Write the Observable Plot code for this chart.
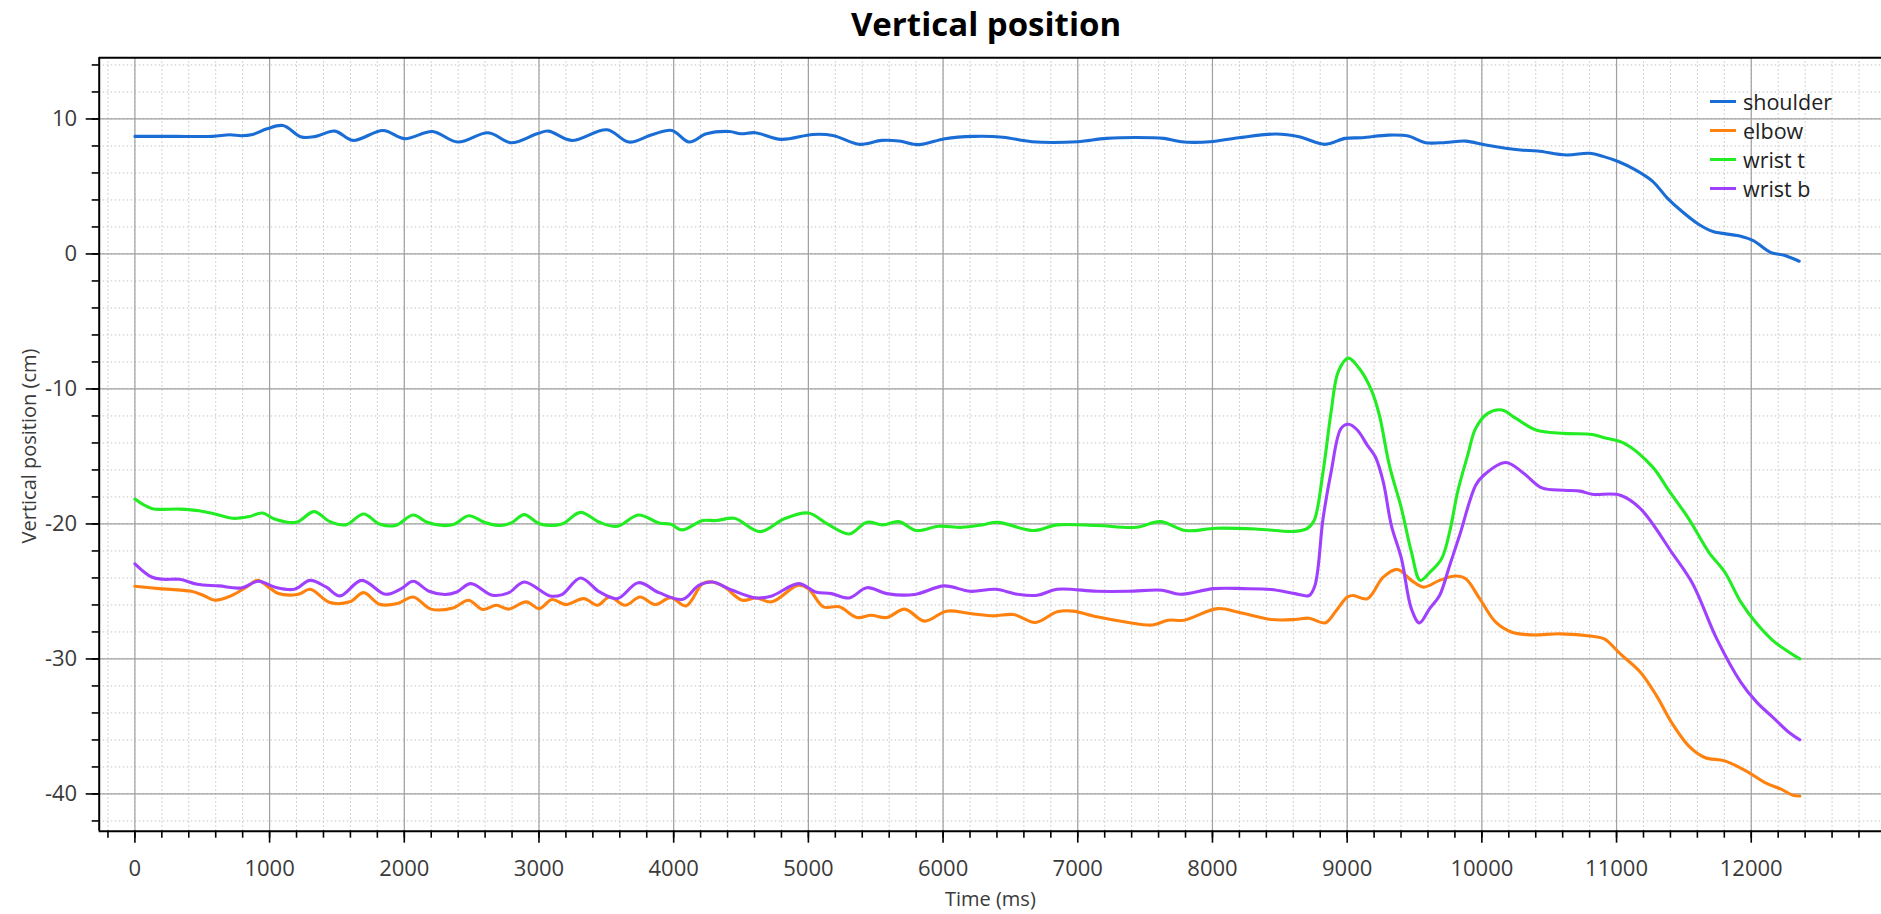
<!DOCTYPE html>
<html>
<head>
<meta charset="utf-8">
<script src="https://cdn.jsdelivr.net/npm/d3@7"></script>
<script src="https://cdn.jsdelivr.net/npm/@observablehq/plot@0.6"></script>
<style>
  html, body { margin: 0; padding: 0; background: #fff; }
  body { width: 1881px; height: 914px; position: relative; overflow: hidden; font-family: "Open Sans", sans-serif; }
  #title { height: 50px; line-height: 48px; padding-left: 91px; text-align: center; font-weight: bold; font-size: 33px; color: #000; }
  #legend { position: absolute; left: 1710px; top: 87px; font-size: 21.5px; color: #222; }
  #legend .row { height: 29px; display: flex; align-items: center; }
  #legend .sw { width: 26px; height: 3px; margin-right: 7px; }
  #ylabel { position: absolute; left: 28px; top: 446px; transform: translate(-50%, -50%) rotate(-90deg); white-space: nowrap; font-size: 20px; color: #3a3a3a; }
</style>
</head>
<body>
<div id="title">Vertical position</div>
<div id="chart"></div>
<div id="legend"></div>
<div id="ylabel"></div>
<script>
// ---- data ----
const seriesNames = ["shoulder", "elbow", "wrist t", "wrist b"];
const seriesColors = ["#1a6dd4", "#ff820f", "#22ec22", "#a040ff"];

const shoulderT = [0,300,576,704,789,874,981,1100,1237,1343,1484,1620,1842,2004,2209,2397,2623,2793,2985,3070,3241,3505,3667,3838,3987,4115,4243,4414,4499,4606,4797,5032,5181,5382,5544,5672,5821,6013,6226,6445,6659,7000,7213,7555,7640,7768,7982,8195,8472,8643,8835,8985,9113,9305,9454,9582,9732,9881,10030,10286,10414,10628,10798,10905,11012,11140,11268,11375,11482,11609,11716,11908,12015,12143,12250,12356];
const shoulderV = [8.71,8.71,8.71,8.83,8.76,8.85,9.27,9.51,8.66,8.71,9.10,8.41,9.15,8.54,9.07,8.29,8.98,8.24,8.90,9.10,8.41,9.20,8.29,8.83,9.15,8.29,8.90,9.07,8.90,8.98,8.49,8.85,8.78,8.12,8.41,8.37,8.10,8.54,8.71,8.65,8.31,8.31,8.56,8.61,8.56,8.31,8.31,8.61,8.88,8.68,8.12,8.56,8.61,8.80,8.73,8.24,8.26,8.36,8.07,7.70,7.63,7.33,7.46,7.21,6.85,6.23,5.38,4.16,3.18,2.20,1.66,1.34,0.98,0.12,-0.12,-0.54];

const elbowT = [0,182,418,506,595,712,830,912,1007,1065,1213,1301,1448,1595,1698,1816,1949,2066,2199,2361,2478,2581,2684,2773,2905,3002,3096,3199,3332,3435,3523,3641,3750,3862,3979,4091,4215,4288,4376,4509,4612,4729,4921,5000,5112,5229,5362,5465,5582,5715,5862,6024,6200,6376,6524,6685,6847,6965,7141,7376,7553,7671,7788,8038,8200,8435,8612,8717,8836,8911,9000,9045,9149,9268,9373,9477,9567,9686,9805,9880,9984,10103,10223,10372,10581,10819,10909,11028,11177,11296,11416,11535,11654,11803,11982,12102,12221,12310,12361];
const elbowV = [-24.62,-24.79,-24.99,-25.28,-25.65,-25.33,-24.67,-24.18,-24.79,-25.16,-25.21,-24.84,-25.82,-25.77,-25.09,-25.95,-25.90,-25.41,-26.31,-26.22,-25.65,-26.34,-26.02,-26.31,-25.77,-26.27,-25.60,-25.97,-25.53,-26.02,-25.41,-26.02,-25.41,-25.97,-25.46,-26.07,-24.42,-24.30,-24.67,-25.65,-25.48,-25.77,-24.55,-24.79,-26.14,-26.14,-26.93,-26.76,-26.93,-26.31,-27.20,-26.46,-26.63,-26.81,-26.71,-27.30,-26.51,-26.46,-26.88,-27.30,-27.49,-27.13,-27.13,-26.27,-26.56,-27.08,-27.08,-26.98,-27.33,-26.53,-25.42,-25.30,-25.54,-23.94,-23.37,-24.18,-24.68,-24.18,-23.86,-24.06,-25.54,-27.28,-28.02,-28.22,-28.14,-28.32,-28.51,-29.63,-30.99,-32.72,-34.83,-36.44,-37.30,-37.55,-38.42,-39.16,-39.65,-40.10,-40.15];

const wristTT = [0,124,330,477,595,727,845,948,1036,1198,1330,1448,1566,1698,1816,1934,2066,2169,2287,2375,2478,2596,2714,2802,2890,3008,3170,3308,3450,3582,3738,3891,3979,4062,4215,4318,4450,4641,4818,5000,5141,5303,5435,5553,5671,5803,5965,6141,6288,6406,6671,6847,7141,7435,7612,7803,8024,8318,8612,8702,8755,8821,8881,8934,9009,9089,9179,9239,9313,9403,9477,9543,9611,9701,9761,9820,9895,9954,10044,10148,10253,10402,10610,10819,10909,11058,11267,11386,11535,11684,11803,11923,12042,12161,12281,12361];
const wristTV = [-18.16,-18.85,-18.90,-19.02,-19.26,-19.58,-19.46,-19.19,-19.63,-19.88,-19.09,-19.83,-20.07,-19.26,-20.00,-20.12,-19.34,-19.88,-20.12,-20.00,-19.39,-19.88,-20.12,-19.88,-19.31,-20.00,-20.00,-19.14,-19.88,-20.17,-19.34,-19.93,-20.02,-20.44,-19.75,-19.75,-19.58,-20.57,-19.63,-19.19,-20.00,-20.74,-19.88,-20.07,-19.83,-20.49,-20.17,-20.25,-20.07,-19.88,-20.49,-20.07,-20.12,-20.25,-19.83,-20.49,-20.32,-20.37,-20.55,-20.35,-19.73,-16.14,-11.68,-8.71,-7.72,-8.47,-10.07,-11.93,-15.64,-18.86,-22.08,-24.18,-23.61,-22.57,-20.59,-17.62,-14.90,-12.92,-11.81,-11.56,-12.18,-13.04,-13.29,-13.37,-13.61,-14.03,-15.77,-17.50,-19.60,-22.08,-23.56,-25.79,-27.40,-28.64,-29.50,-30.00];

const wristBT = [0,124,212,330,462,624,786,918,1036,1183,1301,1419,1522,1684,1860,1978,2066,2184,2302,2390,2493,2655,2773,2890,3082,3170,3308,3450,3582,3738,3891,4068,4186,4288,4435,4612,4729,4929,5053,5171,5303,5435,5582,5788,6009,6200,6391,6553,6700,6847,7141,7376,7626,7759,8009,8229,8435,8612,8717,8761,8821,8881,8955,9009,9075,9149,9209,9268,9328,9403,9477,9537,9611,9686,9761,9835,9954,10014,10178,10312,10446,10610,10730,10819,11028,11177,11416,11565,11744,11923,12042,12161,12281,12361];
const wristBV = [-22.95,-23.93,-24.10,-24.10,-24.47,-24.59,-24.74,-24.25,-24.67,-24.84,-24.18,-24.67,-25.33,-24.18,-25.21,-24.79,-24.25,-24.99,-25.23,-25.04,-24.42,-25.28,-25.11,-24.30,-25.33,-25.23,-24.00,-25.04,-25.53,-24.35,-25.09,-25.58,-24.55,-24.30,-24.91,-25.48,-25.33,-24.42,-25.04,-25.16,-25.48,-24.72,-25.16,-25.23,-24.59,-24.99,-24.84,-25.21,-25.28,-24.84,-24.99,-24.99,-24.91,-25.21,-24.79,-24.79,-24.86,-25.16,-25.30,-24.55,-19.60,-16.14,-12.92,-12.62,-13.04,-14.16,-15.02,-16.88,-20.10,-22.57,-26.29,-27.33,-26.29,-25.30,-23.07,-20.84,-17.13,-16.39,-15.45,-16.26,-17.33,-17.50,-17.57,-17.80,-17.87,-18.86,-22.20,-24.43,-28.51,-31.73,-33.22,-34.33,-35.45,-35.99];

const xMajorTicks = d3.range(0, 12001, 1000);
const xMinorTicks = d3.range(-200, 12801, 200);
const yMajorTicks = [-40, -30, -20, -10, 0, 10];
const yMinorTicks = d3.range(-42, 15, 2);
const xDomain = [-265, 12967];
const yDomain = [-42.76, 14.53];
const xLabel = "Time (ms)";
const yLabel = "Vertical position (cm)";

// ---- build table ----
const seriesT = [shoulderT, elbowT, wristTT, wristBT];
const seriesV = [shoulderV, elbowV, wristTV, wristBV];
const rows = [];
seriesNames.forEach((name, i) => {
  seriesT[i].forEach((t, j) => rows.push({series: name, t, v: seriesV[i][j]}));
});

const fontFamily = "'Open Sans', sans-serif";
const chart = Plot.plot({
  width: 1881,
  height: 864,
  marginLeft: 98.7,
  marginRight: 0,
  marginTop: 7.3,
  marginBottom: 83.3,
  style: {fontFamily, background: "#fff", overflow: "visible"},
  x: {domain: xDomain},
  y: {domain: yDomain},
  color: {domain: seriesNames, range: seriesColors},
  marks: [
    Plot.gridX(xMinorTicks, {stroke: "#c4c4c4", strokeOpacity: 1, strokeWidth: 1, strokeDasharray: "1.5,2.5"}),
    Plot.gridY(yMinorTicks, {stroke: "#c4c4c4", strokeOpacity: 1, strokeWidth: 1, strokeDasharray: "1.5,2.5"}),
    Plot.gridX(xMajorTicks, {stroke: "#a0a0a0", strokeOpacity: 1, strokeWidth: 1.2}),
    Plot.gridY(yMajorTicks, {stroke: "#a0a0a0", strokeOpacity: 1, strokeWidth: 1.2}),
    Plot.line(rows, {x: "t", y: "v", z: "series", stroke: "series", strokeWidth: 3.1, curve: "catmull-rom"}),
    Plot.ruleX([xDomain[0]], {stroke: "#000", strokeWidth: 2}),
    Plot.ruleY(yDomain, {stroke: "#000", strokeWidth: 2}),
    Plot.axisX(xMajorTicks, {tickSize: 12, tickPadding: 17, fontSize: 22, stroke: "#000", strokeWidth: 1.6, fill: "#3a3a3a", tickFormat: d => String(d), label: null}),
    Plot.axisX(xMinorTicks, {tickSize: 7, stroke: "#000", strokeWidth: 1.6, tickFormat: () => "", label: null}),
    Plot.axisY(yMajorTicks, {tickSize: 13, tickPadding: 9, fontSize: 22, stroke: "#000", strokeWidth: 1.6, fill: "#3a3a3a", tickFormat: d => String(d), label: null}),
    Plot.axisY(yMinorTicks, {tickSize: 7, stroke: "#000", strokeWidth: 1.6, tickFormat: () => "", label: null}),
    Plot.text([xLabel], {frameAnchor: "bottom", dy: 75, fontSize: 20, fill: "#3a3a3a"})
  ]
});
document.getElementById("chart").appendChild(chart);
document.getElementById("ylabel").textContent = yLabel;

// legend
const legend = document.getElementById("legend");
seriesNames.forEach((name, i) => {
  const row = document.createElement("div");
  row.className = "row";
  const sw = document.createElement("span");
  sw.className = "sw";
  sw.style.background = seriesColors[i];
  const tx = document.createElement("span");
  tx.textContent = name;
  row.appendChild(sw);
  row.appendChild(tx);
  legend.appendChild(row);
});
</script>
</body>
</html>
